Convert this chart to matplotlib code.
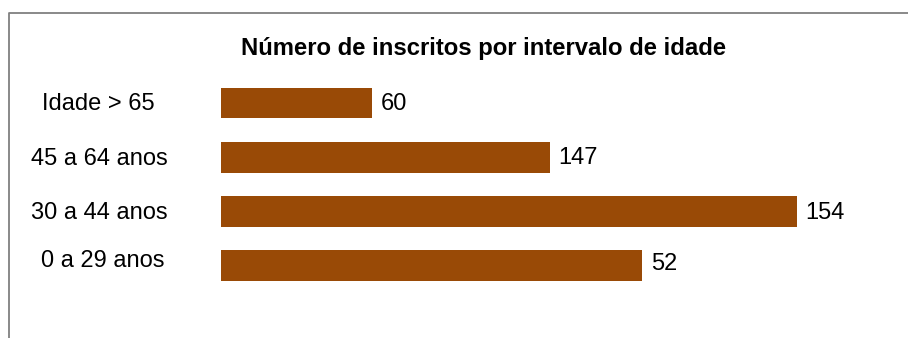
import matplotlib
matplotlib.use("Agg")
import matplotlib.pyplot as plt
from matplotlib.lines import Line2D
import matplotlib.transforms as mtrans

plt.rcParams['font.family'] = ['Liberation Sans', 'DejaVu Sans']

categories = ["0 a 29 anos", "30 a 44 anos", "45 a 64 anos", "Idade > 65"]
bar_lengths = [112.6, 154.0, 88.0, 40.4]
value_labels = ["52", "154", "147", "60"]
title = "Número de inscritos por intervalo de idade"

W, H = 908, 338
fig = plt.figure(figsize=(W / 100, H / 100), dpi=100)

# axes placement (pixels)
ax_left, ax_right = 221, 908
ax_top, ax_bottom = 76, 292.5
ax = fig.add_axes([ax_left / W, 1 - ax_bottom / H, (ax_right - ax_left) / W, (ax_bottom - ax_top) / H])

ypos = list(range(len(categories)))
ax.barh(ypos, bar_lengths, height=0.57, color="#994A06", left=0)
ax.set_xlim(0, (ax_right - ax_left) / 3.74)
ax.set_ylim(-0.5, len(categories) - 0.5)
ax.axis("off")

px = 72 / 100  # points per pixel
val_dy = [5, 7.5, 7, 7]
for y, v, lab, dy in zip(ypos, bar_lengths, value_labels, val_dy):
    ax.annotate(lab, xy=(v, y), xytext=(8.5 * px, -dy * px), textcoords="offset points",
                ha="left", va="baseline", fontsize=17, color="black")

trans = mtrans.blended_transform_factory(fig.transFigure, ax.transData)
lab_dx = [4, 0, 0, -1]
lab_dy = [1.5, 7.5, 7.5, 7]
for y, c, dx, dy in zip(ypos, categories, lab_dx, lab_dy):
    t = trans + mtrans.ScaledTranslation(dx / 100, -dy / 100, fig.dpi_scale_trans)
    ax.text(99 / W, y, c, transform=t, ha="center", va="baseline",
            fontsize=17, color="black")

fig.text(483.5 / W, 1 - 55 / H, title, ha="center", va="baseline",
         fontsize=17.2, fontweight="bold", color="black")

# outer frame (partially visible)
fig.add_artist(Line2D([8.5 / W, 8.5 / W, 1.0], [0.0, 1 - 13 / H, 1 - 13 / H],
                      transform=fig.transFigure, color="#808080", lw=1.3))

fig.savefig("out.png", dpi=100)
